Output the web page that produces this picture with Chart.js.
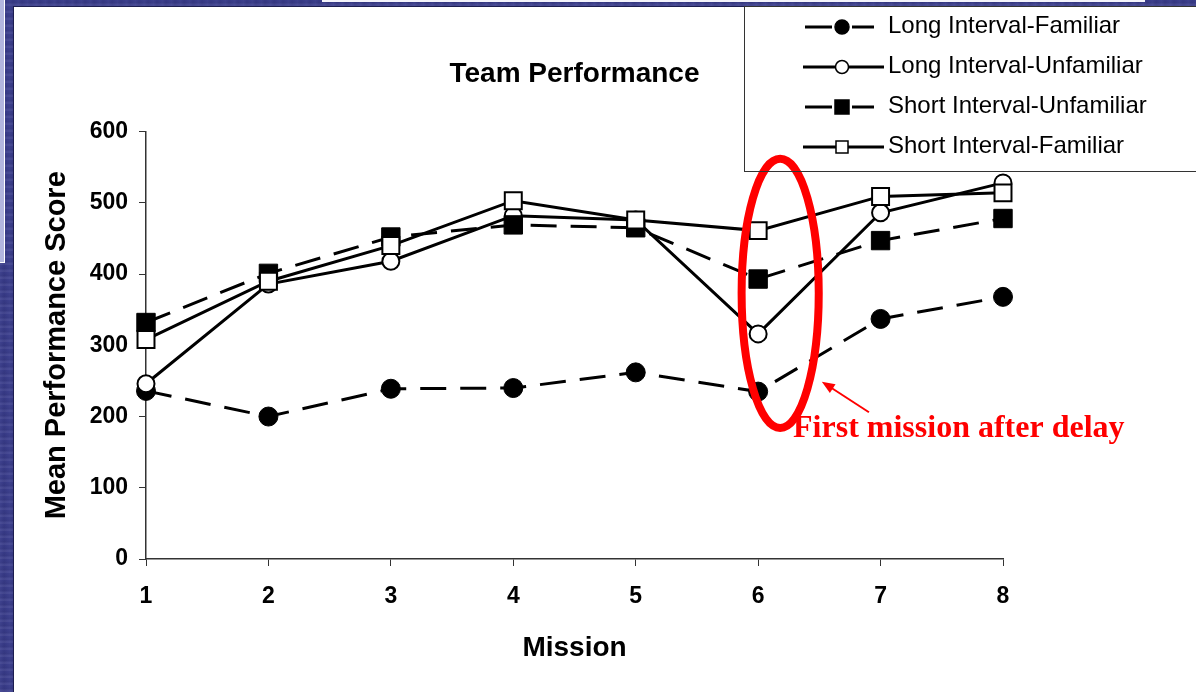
<!DOCTYPE html>
<html>
<head>
<meta charset="utf-8">
<script src="https://cdn.jsdelivr.net/npm/chart.js@4.4.1/dist/chart.umd.min.js"></script>
<style>
  html, body { margin: 0; padding: 0; }
  #stage {
    position: relative; width: 1196px; height: 692px; overflow: hidden;
    background-color: #393c8c;
    background-image:
      repeating-linear-gradient(0deg, rgba(255,255,255,0.06) 0px, rgba(255,255,255,0.06) 2px, rgba(0,0,0,0.05) 3px, rgba(0,0,0,0) 7px),
      repeating-linear-gradient(90deg, rgba(255,255,255,0.03) 0px, rgba(0,0,0,0.05) 4px, rgba(255,255,255,0.02) 9px);
  }
  #sheet {
    position: absolute; left: 13px; top: 6px; right: 0; bottom: 0;
    background: #ffffff;
    border-left: 1px solid #1c1d4f; border-top: 1px solid #1c1d4f;
  }
  #sidebar {
    position: absolute; left: 0; top: 0; width: 4px; height: 262px;
    background: #b3b6df; border-right: 1px solid #ffffff; border-bottom: 1px solid #ffffff;
  }
  #topbar {
    position: absolute; left: 322px; top: 0; width: 823px; height: 2px; background: #f4f4fb;
  }
  canvas { position: absolute; left: 0; top: 0; }
</style>
</head>
<body>
<div id="stage">
  <div id="sheet"></div>
  <div id="sidebar"></div>
  <div id="topbar"></div>
  <canvas id="chart" width="1196" height="692"></canvas>
</div>
<script>
// Missions and mean team performance scores per condition
const missions = ['1', '2', '3', '4', '5', '6', '7', '8'];
const longIntervalFamiliar    = [236, 200, 239, 240, 262, 235, 337, 368];
const longIntervalUnfamiliar  = [246, 386, 418, 482, 476, 316, 486, 528];
const shortIntervalUnfamiliar = [332, 401, 452, 469, 465, 393, 447, 478];
const shortIntervalFamiliar   = [308, 390, 440, 503, 476, 461, 509, 514];
const yTicks = [0, 100, 200, 300, 400, 500, 600];

const SANS = "'Liberation Sans', Arial, Helvetica, sans-serif";
const SERIF = "'Liberation Serif', 'Times New Roman', serif";
const INK = '#000000';
const DASH = [26, 14];

// Callout around the first mission after the delay (data units)
const callout = {
  ellipseX: 6.18, ellipseHalfWidth: 0.315, ellipseTop: 562, ellipseBottom: 184,
  arrowFrom: [6.905, 206], arrowTo: [6.52, 249],
  textX: 6.285, textY: 171,
  text: 'First mission after delay'
};

const legendEntries = [
  { label: 'Long Interval-Familiar',    dashed: true,  style: 'circle', filled: true },
  { label: 'Long Interval-Unfamiliar',  dashed: false, style: 'circle', filled: false },
  { label: 'Short Interval-Unfamiliar', dashed: true,  style: 'rect',   filled: true },
  { label: 'Short Interval-Familiar',   dashed: false, style: 'rect',   filled: false }
];

function series(label, data, dashed, style, filled, order) {
  const isRect = style === 'rect';
  return {
    label, data, order,
    borderColor: INK, borderWidth: 3, borderDash: dashed ? DASH : [],
    tension: 0, fill: false,
    pointStyle: style,
    pointRadius: isRect ? (filled ? 13 : 12) : (filled ? 9.5 : 8.5),
    pointBackgroundColor: filled ? INK : '#ffffff',
    pointBorderColor: INK,
    pointBorderWidth: filled ? 1 : 2
  };
}

// Boxed legend at the upper right
const boxLegend = {
  id: 'boxLegend',
  afterDraw(chart) {
    const ctx = chart.ctx;
    ctx.save();
    ctx.strokeStyle = '#333333';
    ctx.lineWidth = 1;
    ctx.strokeRect(744.5, 6.5, 480, 165);
    const rowY = [27, 67, 107, 147];
    legendEntries.forEach((e, i) => {
      const y = rowY[i];
      const mx = 842;
      ctx.strokeStyle = INK;
      ctx.lineWidth = 3;
      ctx.setLineDash([]);
      ctx.beginPath();
      if (e.dashed) {
        ctx.moveTo(805, y); ctx.lineTo(832, y);
        ctx.moveTo(852, y); ctx.lineTo(874, y);
      } else {
        ctx.moveTo(803, y); ctx.lineTo(884, y);
      }
      ctx.stroke();
      ctx.lineWidth = 1.5;
      ctx.fillStyle = e.filled ? INK : '#ffffff';
      ctx.beginPath();
      if (e.style === 'circle') {
        ctx.arc(mx, y, e.filled ? 7 : 6.5, 0, Math.PI * 2);
      } else {
        const s = e.filled ? 14 : 12;
        ctx.rect(mx - s / 2, y - s / 2, s, s);
      }
      ctx.fill();
      ctx.stroke();
      ctx.fillStyle = INK;
      ctx.font = '24px ' + SANS;
      ctx.textAlign = 'left';
      ctx.textBaseline = 'middle';
      ctx.fillText(e.label, 888, y - 1);
    });
    ctx.restore();
  }
};

// Red ellipse, arrow and caption placed through the chart scales
const delayCallout = {
  id: 'delayCallout',
  afterDatasetsDraw(chart) {
    const { ctx, scales: { x, y } } = chart;
    const px = v => x.getPixelForValue(v - 1);
    const cx = px(callout.ellipseX);
    const rx = (px(callout.ellipseX + callout.ellipseHalfWidth) - px(callout.ellipseX - callout.ellipseHalfWidth)) / 2;
    const top = y.getPixelForValue(callout.ellipseTop);
    const bottom = y.getPixelForValue(callout.ellipseBottom);
    ctx.save();
    ctx.strokeStyle = '#ff0000';
    ctx.lineWidth = 8;
    ctx.beginPath();
    ctx.ellipse(cx, (top + bottom) / 2, rx, (bottom - top) / 2, 0, 0, Math.PI * 2);
    ctx.stroke();

    const x0 = px(callout.arrowFrom[0]), y0 = y.getPixelForValue(callout.arrowFrom[1]);
    const x1 = px(callout.arrowTo[0]), y1 = y.getPixelForValue(callout.arrowTo[1]);
    const ang = Math.atan2(y1 - y0, x1 - x0);
    const head = 14, spread = 0.38;
    ctx.lineWidth = 2;
    ctx.beginPath();
    ctx.moveTo(x0, y0);
    ctx.lineTo(x1 - Math.cos(ang) * head * 0.8, y1 - Math.sin(ang) * head * 0.8);
    ctx.stroke();
    ctx.fillStyle = '#ff0000';
    ctx.beginPath();
    ctx.moveTo(x1, y1);
    ctx.lineTo(x1 - head * Math.cos(ang - spread), y1 - head * Math.sin(ang - spread));
    ctx.lineTo(x1 - head * Math.cos(ang + spread), y1 - head * Math.sin(ang + spread));
    ctx.closePath();
    ctx.fill();

    ctx.font = 'bold 32px ' + SERIF;
    ctx.textAlign = 'left';
    ctx.textBaseline = 'alphabetic';
    ctx.fillText(callout.text, px(callout.textX), y.getPixelForValue(callout.textY));
    ctx.restore();
  }
};

new Chart(document.getElementById('chart'), {
  type: 'line',
  data: {
    labels: missions,
    datasets: [
      series('Long Interval-Familiar', longIntervalFamiliar, true, 'circle', true, 4),
      series('Long Interval-Unfamiliar', longIntervalUnfamiliar, false, 'circle', false, 3),
      series('Short Interval-Unfamiliar', shortIntervalUnfamiliar, true, 'rect', true, 2),
      series('Short Interval-Familiar', shortIntervalFamiliar, false, 'rect', false, 1)
    ]
  },
  options: {
    responsive: false,
    animation: false,
    events: [],
    layout: { padding: { left: 0, top: 40, right: 193, bottom: 0 } },
    plugins: {
      legend: { display: false },
      tooltip: { enabled: false },
      title: {
        display: true, fullSize: false,
        text: 'Team Performance', color: INK,
        font: { family: SANS, size: 28, weight: 'bold', lineHeight: 1.2 },
        padding: { top: 17, bottom: 41 }
      }
    },
    scales: {
      x: {
        type: 'category', offset: false,
        grid: { display: true, drawOnChartArea: false, drawTicks: true, tickLength: 7, color: '#333333', lineWidth: 1, offset: false },
        border: { display: true, color: '#333333', width: 1.5 },
        ticks: { color: INK, padding: 17, maxRotation: 0, font: { family: SANS, size: 23, weight: 'bold', lineHeight: 1.2 } },
        title: {
          display: true, text: 'Mission', color: INK,
          font: { family: SANS, size: 28, weight: 'bold', lineHeight: 1.2 },
          padding: { top: 0, bottom: 27 }
        },
        afterFit(scale) { scale.height = 133; }
      },
      y: {
        min: yTicks[0], max: yTicks[yTicks.length - 1],
        afterBuildTicks(scale) { scale.ticks = yTicks.map(v => ({ value: v })); },
        grid: { display: true, drawOnChartArea: false, drawTicks: true, tickLength: 7, color: '#333333', lineWidth: 1 },
        border: { display: true, color: '#333333', width: 1.5 },
        ticks: { color: INK, padding: 11, font: { family: SANS, size: 23, weight: 'bold', lineHeight: 1.2 } },
        title: {
          display: true, text: 'Mean Performance Score', color: INK,
          font: { family: SANS, size: 29, weight: 'bold', lineHeight: 1.2 },
          padding: { top: 40, bottom: 0 }
        },
        afterFit(scale) { scale.width = 146; }
      }
    }
  },
  plugins: [delayCallout, boxLegend]
});
</script>
</body>
</html>
